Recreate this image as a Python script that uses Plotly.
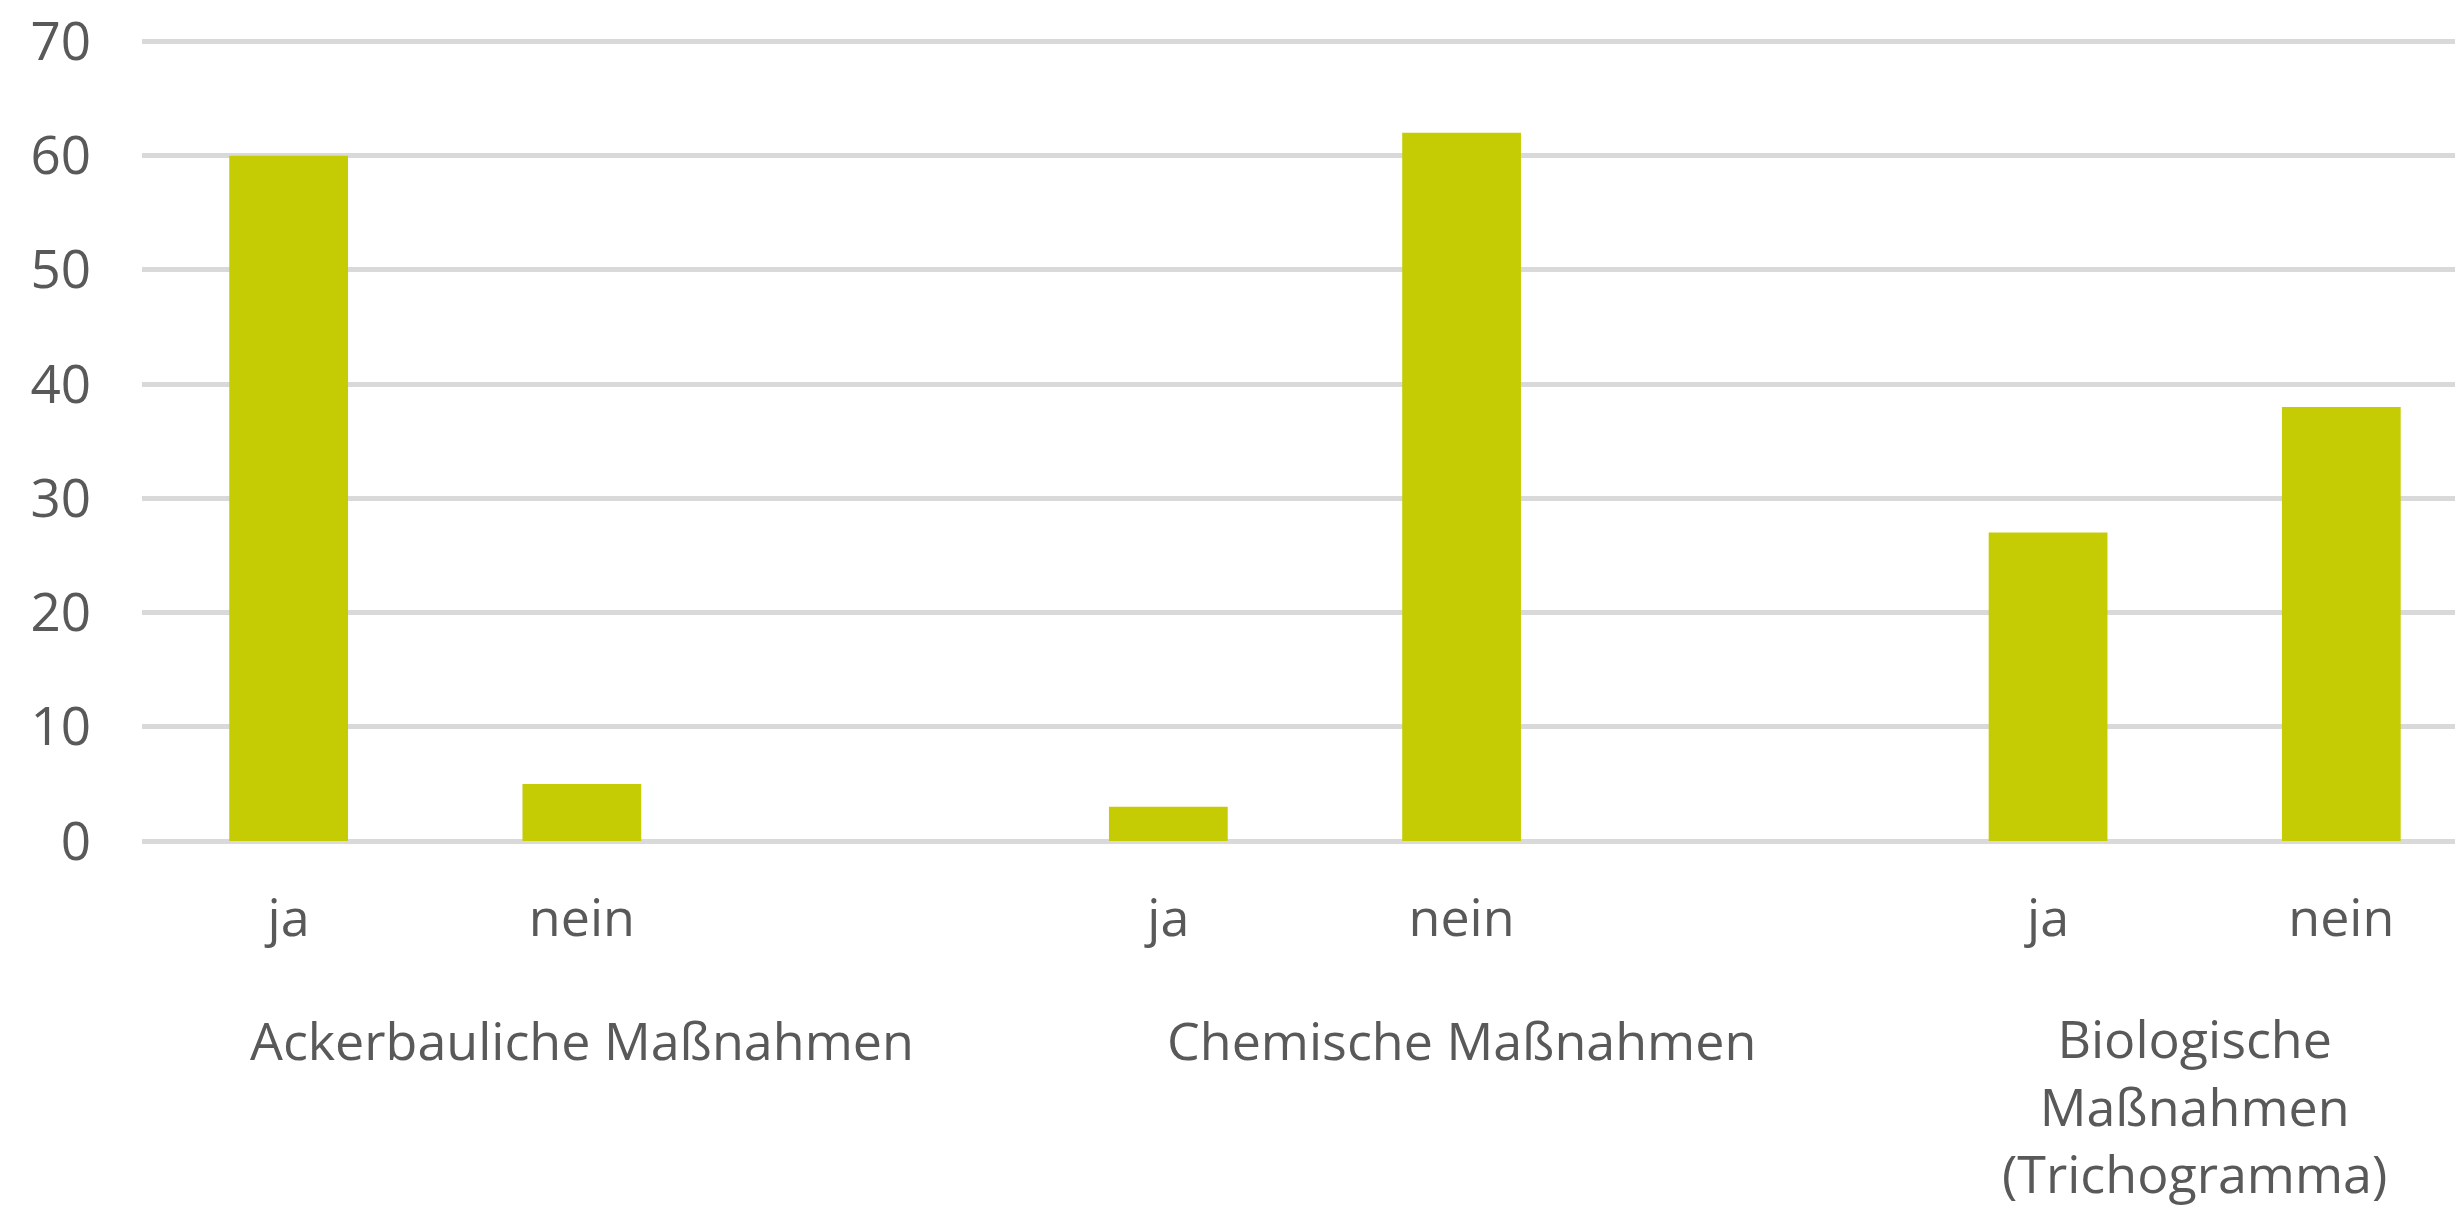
import plotly.graph_objects as go

# Data
groups = ["Ackerbauliche Maßnahmen", "Chemische Maßnahmen", "Biologische<br>Maßnahmen<br>(Trichogramma)"]
answers = ["ja", "nein"]
ja_values = [60, 3, 27]
nein_values = [5, 62, 38]
y_ticks = [0, 10, 20, 30, 40, 50, 60, 70]

BAR = "#C5CC04"
GRID = "#D9D9D9"
TEXT = "#595959"
FONT = "Open Sans"

# each group takes three slots: ja, nein, empty spacer
slot_x, slot_text, slot_y = [], [], []
for g, (ja, nein) in enumerate(zip(ja_values, nein_values)):
    for k, (label, v) in enumerate(zip(answers, (ja, nein))):
        slot_x.append(g * 3 + k)
        slot_text.append(label)
        slot_y.append(v)

fig = go.Figure()
fig.add_trace(go.Bar(
    x=slot_x, y=slot_y, width=0.405,
    marker=dict(color=BAR, line=dict(width=0)),
    hoverinfo="skip",
))

# group labels under the ja/nein ticks
label_x = [1, 4, 6.5]
label_y = [-0.245, -0.245, -0.326]
for name, x, y in zip(groups, label_x, label_y):
    fig.add_annotation(
        text=name, x=x, y=y, xref="x", yref="paper",
        showarrow=False, xanchor="center", yanchor="middle",
        font=dict(family=FONT, size=52, color=TEXT),
    )

# the page body adds an 8px margin, so the figure is 8px smaller
fig.update_layout(
    width=2455, height=1202,
    margin=dict(l=134, r=0, t=22, b=369),
    paper_bgcolor="white", plot_bgcolor="white",
    showlegend=False,
    font=dict(family=FONT, color=TEXT),
    xaxis=dict(
        range=[-0.5, 7.415], automargin=False,
        tickmode="array", tickvals=slot_x, ticktext=slot_text,
        tickfont=dict(family=FONT, size=52, color=TEXT),
        showgrid=False, zeroline=False, showline=False, ticks="",
        ticklabelstandoff=42,
    ),
    yaxis=dict(
        range=[0, 71], automargin=False,
        tickmode="array", tickvals=y_ticks,
        tickfont=dict(family=FONT, size=53, color=TEXT),
        ticklabeloverflow="allow",
        showgrid=True, gridcolor=GRID, gridwidth=5,
        zeroline=True, zerolinecolor=GRID, zerolinewidth=5,
        showline=False, ticks="",
        ticklabelstandoff=50,
    ),
)

fig.write_html("out.html")
